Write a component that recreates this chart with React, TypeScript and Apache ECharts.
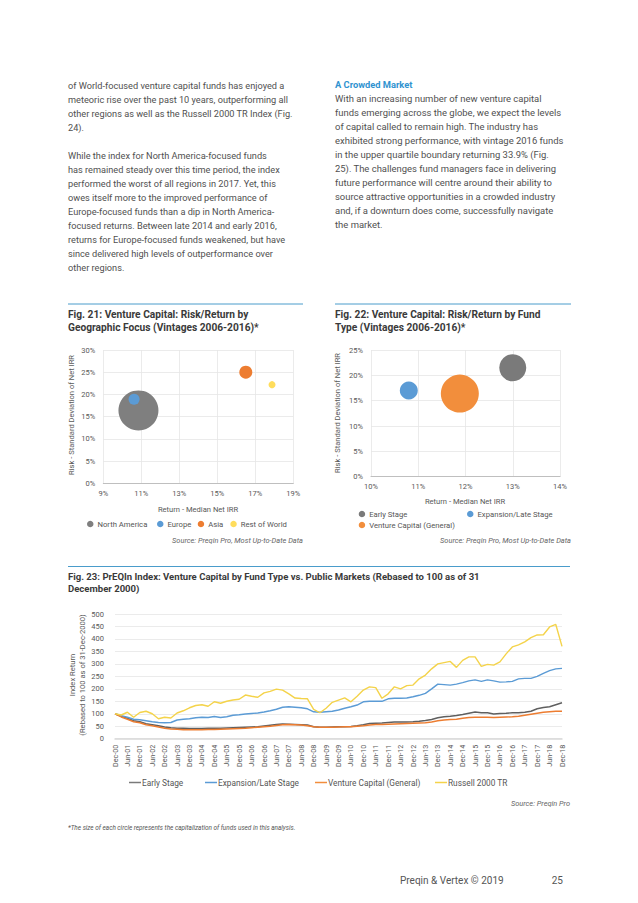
import React, { useEffect, useRef } from "react";
import * as echarts from "echarts";

const FONT = "Roboto";
const TEXT = "#505050";
const BLUE_HEAD = "#2f93d0";
const RULE = "#4a9ccb";

const leftLines = [
  "of World-focused venture capital funds has enjoyed a",
  "meteoric rise over the past 10 years, outperforming all",
  "other regions as well as the Russell 2000 TR Index (Fig.",
  "24).",
  "",
  "While the index for North America-focused funds",
  "has remained steady over this time period, the index",
  "performed the worst of all regions in 2017. Yet, this",
  "owes itself more to the improved performance of",
  "Europe-focused funds than a dip in North America-",
  "focused returns. Between late 2014 and early 2016,",
  "returns for Europe-focused funds weakened, but have",
  "since delivered high levels of outperformance over",
  "other regions.",
];
const rightHeading = "A Crowded Market";
const rightLines = [
  "With an increasing number of new venture capital",
  "funds emerging across the globe, we expect the levels",
  "of capital called to remain high. The industry has",
  "exhibited strong performance, with vintage 2016 funds",
  "in the upper quartile boundary returning 33.9% (Fig.",
  "25). The challenges fund managers face in delivering",
  "future performance will centre around their ability to",
  "source attractive opportunities in a crowded industry",
  "and, if a downturn does come, successfully navigate",
  "the market.",
];

// Fig. 21
const regions = ["North America", "Europe", "Asia", "Rest of World"];
const regionReturn = [10.85, 10.62, 16.5, 17.88];
const regionRisk = [16.4, 18.9, 25.0, 22.2];
const regionCap = [40, 11, 13, 7];
const regionColors = ["#7f7f7f", "#5b9bd5", "#ed7d31", "#ffdd5c"];

// Fig. 22
const fundTypes = ["Early Stage", "Expansion/Late Stage", "Venture Capital (General)"];
const fundReturn = [13.0, 10.8, 11.88];
const fundRisk = [21.5, 17.0, 16.4];
const fundCap = [27, 18, 38];
const fundColors = ["#7a7a7a", "#5b9bd5", "#f28e3c"];

// Fig. 23
const quarters = [
  "Dec-00",
  "Mar-01", "Jun-01", "Sep-01", "Dec-01",
  "Mar-02", "Jun-02", "Sep-02", "Dec-02",
  "Mar-03", "Jun-03", "Sep-03", "Dec-03",
  "Mar-04", "Jun-04", "Sep-04", "Dec-04",
  "Mar-05", "Jun-05", "Sep-05", "Dec-05",
  "Mar-06", "Jun-06", "Sep-06", "Dec-06",
  "Mar-07", "Jun-07", "Sep-07", "Dec-07",
  "Mar-08", "Jun-08", "Sep-08", "Dec-08",
  "Mar-09", "Jun-09", "Sep-09", "Dec-09",
  "Mar-10", "Jun-10", "Sep-10", "Dec-10",
  "Mar-11", "Jun-11", "Sep-11", "Dec-11",
  "Mar-12", "Jun-12", "Sep-12", "Dec-12",
  "Mar-13", "Jun-13", "Sep-13", "Dec-13",
  "Mar-14", "Jun-14", "Sep-14", "Dec-14",
  "Mar-15", "Jun-15", "Sep-15", "Dec-15",
  "Mar-16", "Jun-16", "Sep-16", "Dec-16",
  "Mar-17", "Jun-17", "Sep-17", "Dec-17",
  "Mar-18", "Jun-18", "Sep-18", "Dec-18",
];
const earlyStage = [
  100, 90, 82, 72, 68, 60, 56, 52, 47, 44, 42, 42, 41, 41, 41, 42, 42, 42, 43, 44,
  45, 46, 47, 48, 51, 54, 57, 59, 58, 57, 56, 55, 48, 46, 46, 47, 48, 48, 49, 52,
  56, 61, 62, 63, 65, 67, 67, 67, 68, 70, 73, 77, 84, 88, 90, 93, 97, 102, 107, 104,
  104, 99, 101, 102, 104, 104, 106, 110, 120, 125, 128, 136, 144,
];
const expansionLate = [
  100, 92, 86, 78, 76, 72, 68, 65, 64, 65, 75, 78, 80, 84, 86, 85, 89, 85, 88, 94,
  96, 99, 101, 103, 107, 112, 118, 126, 128, 126, 124, 120, 108, 106, 108, 110, 115, 122, 128, 135,
  148, 150, 150, 150, 160, 162, 162, 163, 168, 174, 182, 200, 219, 217, 215, 219, 225, 232, 236, 230,
  236, 232, 227, 228, 230, 240, 242, 242, 250, 262, 273, 280, 282,
];
const vcGeneral = [
  100, 87, 78, 68, 64, 56, 52, 47, 42, 39, 38, 36, 36, 36, 36, 37, 37, 38, 39, 40,
  41, 42, 44, 46, 48, 50, 53, 56, 57, 56, 55, 52, 48, 46, 46, 46, 47, 48, 48, 50,
  52, 55, 57, 57, 58, 59, 60, 61, 62, 63, 64, 67, 72, 75, 77, 78, 82, 85, 86, 86,
  86, 85, 86, 87, 88, 90, 94, 98, 102, 106, 108, 110, 110,
];
const russell2000 = [
  100, 95, 106, 86, 105, 110, 100, 80, 86, 83, 103, 112, 124, 133, 136, 130, 148, 142, 150, 155,
  158, 175, 170, 166, 184, 190, 199, 195, 180, 163, 161, 160, 118, 104, 122, 146, 155, 164, 148, 170,
  195, 208, 205, 162, 180, 208, 200, 213, 215, 240, 255, 280, 300, 305, 310, 286, 314, 328, 328, 290,
  298, 295, 308, 340, 368, 376, 388, 405, 416, 417, 448, 458, 370,
];
const lineNames = ["Early Stage", "Expansion/Late Stage", "Venture Capital (General)", "Russell 2000 TR"];
const lineColors = ["#5f5f5f", "#5b9bd5", "#ed7d31", "#f4d34a"];

function t(x: number, y: number, text: string, extra: any = {}, el: any = {}) {
  const align = extra.align || "left";
  return {
    type: "text",
    x,
    y,
    silent: true,
    ...el,
    style: {
      text,
      fill: TEXT,
      fontFamily: FONT,
      fontSize: 9,
      align,
      textAlign: align,
      verticalAlign: "middle",
      textVerticalAlign: "middle",
      ...extra,
    },
  };
}

function rule(x1: number, x2: number, y: number) {
  return {
    type: "line",
    silent: true,
    shape: { x1, y1: y, x2, y2: y },
    style: { stroke: RULE, lineWidth: 1 },
  };
}

function dotLegend(name: string, left: number, top: number) {
  return {
    show: true,
    data: [name],
    left,
    top,
    padding: 0,
    itemGap: 0,
    icon: "circle",
    itemWidth: 6.5,
    itemHeight: 6.5,
    selectedMode: false,
    textStyle: { fontFamily: FONT, fontSize: 7.7, color: "#555", padding: [0, 0, 0, -1] },
  };
}

function lineLegend(name: string, left: number, top: number) {
  return {
    show: true,
    data: [name],
    left,
    top,
    padding: 0,
    itemGap: 0,
    icon: "rect",
    itemWidth: 12,
    itemHeight: 1.5,
    selectedMode: false,
    textStyle: { fontFamily: FONT, fontSize: 8.3, color: "#555", padding: [0, 0, 0, -4] },
  };
}

const axisLabelStyle = { fontFamily: FONT, fontSize: 7.5, color: "#595959" };

export default function App() {
  const ref = useRef<HTMLDivElement>(null);

  useEffect(() => {
    document.body.style.margin = "0";
    const chart = echarts.init(ref.current!, null, { renderer: "svg" });

    const graphic: any[] = [];
    leftLines.forEach((line, i) => {
      if (line) graphic.push(t(68, 85 + i * 14, line, { fontSize: 9.2 }));
    });
    graphic.push(t(335, 84, rightHeading, { fill: BLUE_HEAD, fontWeight: "bold", fontSize: 9.3 }));
    rightLines.forEach((line, i) => graphic.push(t(335, 98 + i * 14, line, { fontSize: 9.45 })));

    // figure rules & titles
    graphic.push(rule(68, 303, 304));
    graphic.push(rule(335, 571, 304));
    graphic.push(rule(68, 570, 566.5));
    const titleStyle = { fontWeight: "bold", fontSize: 10.2, fill: "#3a3a3a" };
    const title23Style = { fontWeight: "bold", fontSize: 9.55, fill: "#3a3a3a" };
    graphic.push(t(68, 314, "Fig. 21: Venture Capital: Risk/Return by", titleStyle));
    graphic.push(t(68, 327.5, "Geographic Focus (Vintages 2006-2016)*", titleStyle));
    graphic.push(t(335, 314, "Fig. 22: Venture Capital: Risk/Return by Fund", titleStyle));
    graphic.push(t(335, 327.5, "Type (Vintages 2006-2016)*", titleStyle));
    graphic.push(
      t(68, 576, "Fig. 23: PrEQIn Index: Venture Capital by Fund Type vs. Public Markets (Rebased to 100 as of 31", title23Style)
    );
    graphic.push(t(68, 588.5, "December 2000)", title23Style));

    // axis names
    const nameStyle = { fontSize: 7.6, fill: "#595959", align: "center" };
    graphic.push(t(71, 415, "Risk - Standard Deviation of Net IRR", nameStyle, { rotation: Math.PI / 2 }));
    graphic.push(t(337, 413, "Risk - Standard Deviation of Net IRR", nameStyle, { rotation: Math.PI / 2 }));
    graphic.push(t(72, 675, "Index Return", nameStyle, { rotation: Math.PI / 2 }));
    graphic.push(t(82, 675, "(Rebased to 100 as of 31-Dec-2000)", nameStyle, { rotation: Math.PI / 2 }));
    graphic.push(t(198, 509.5, "Return - Median Net IRR", nameStyle));
    graphic.push(t(465, 501, "Return - Median Net IRR", nameStyle));

    // sources & footnotes
    const srcStyle = { fontSize: 7.4, fontStyle: "italic", fill: "#666", align: "right" };
    graphic.push(t(303, 540, "Source: Preqin Pro, Most Up-to-Date Data", srcStyle));
    graphic.push(t(571, 540.5, "Source: Preqin Pro, Most Up-to-Date Data", srcStyle));
    graphic.push(t(570, 803.5, "Source: Preqin Pro", srcStyle));
    graphic.push(
      t(68, 827.5, "*The size of each circle represents the capitalization of funds used in this analysis.", {
        fontSize: 6.4,
        fontStyle: "italic",
        fill: "#555",
      })
    );
    graphic.push(t(400, 880, "Preqin & Vertex © 2019", { fontSize: 10, fill: "#555" }));
    graphic.push(t(563, 880, "25", { fontSize: 10, fill: "#555", align: "right" }));

    const pctAxis = (min: number, max: number, interval: number, gridIndex: number, isX: boolean) => ({
      type: "value",
      gridIndex,
      min,
      max,
      interval,
      axisLine: { show: isX, lineStyle: { color: "#bfbfbf", width: 1 } },
      axisTick: { show: false },
      axisLabel: { ...axisLabelStyle, formatter: "{value}%", margin: isX ? 6 : 8 },
      splitLine: { show: true, lineStyle: { color: "#e6e6e6", width: 0.8 } },
    });

    const series: any[] = [];
    regions.forEach((name, i) => {
      series.push({
        name,
        type: "scatter",
        xAxisIndex: 0,
        yAxisIndex: 0,
        data: [[regionReturn[i], regionRisk[i], regionCap[i]]],
        symbolSize: (v: number[]) => v[2],
        itemStyle: { color: regionColors[i], opacity: 1 },
        z: 2 + i,
      });
    });
    fundTypes.forEach((name, i) => {
      series.push({
        name,
        type: "scatter",
        xAxisIndex: 1,
        yAxisIndex: 1,
        data: [[fundReturn[i], fundRisk[i], fundCap[i]]],
        symbolSize: (v: number[]) => v[2],
        itemStyle: { color: fundColors[i], opacity: 1 },
        z: 2 + i,
      });
    });
    const lineData = [earlyStage, expansionLate, vcGeneral, russell2000];
    lineNames.forEach((name, i) => {
      series.push({
        name,
        type: "line",
        xAxisIndex: 2,
        yAxisIndex: 2,
        data: lineData[i],
        showSymbol: false,
        symbol: "none",
        lineStyle: { color: lineColors[i], width: 1.4 },
        itemStyle: { color: lineColors[i] },
        z: 2 + i,
      });
    });

    chart.setOption({
      animation: false,
      backgroundColor: "#ffffff",
      textStyle: { fontFamily: FONT },
      grid: [
        { left: 103.3, top: 350, width: 190, height: 133.3, containLabel: false },
        { left: 371, top: 350, width: 189, height: 126.7, containLabel: false },
        { left: 115, top: 614, width: 447, height: 124.7, containLabel: false },
      ],
      xAxis: [
        pctAxis(9, 19, 2, 0, true),
        pctAxis(10, 14, 1, 1, true),
        {
          type: "category",
          gridIndex: 2,
          data: quarters,
          boundaryGap: false,
          axisLine: { show: true, lineStyle: { color: "#d9d9d9", width: 1.5 } },
          axisTick: { show: false },
          axisLabel: { ...axisLabelStyle, fontSize: 7.2, interval: 1, rotate: 90, margin: 6 },
          splitLine: { show: false },
        },
      ],
      yAxis: [
        pctAxis(0, 30, 5, 0, false),
        pctAxis(0, 25, 5, 1, false),
        {
          type: "value",
          gridIndex: 2,
          min: 0,
          max: 500,
          interval: 50,
          axisLine: { show: false },
          axisTick: { show: false },
          axisLabel: { ...axisLabelStyle, margin: 11 },
          splitLine: { show: true, lineStyle: { color: "#e6e6e6", width: 0.8 } },
        },
      ],
      legend: [
        dotLegend("North America", 87, 520),
        dotLegend("Europe", 157, 520),
        dotLegend("Asia", 197.7, 520),
        dotLegend("Rest of World", 230.3, 520),
        dotLegend("Early Stage", 358.7, 510),
        dotLegend("Expansion/Late Stage", 467, 510),
        dotLegend("Venture Capital (General)", 358.7, 521),
        lineLegend("Early Stage", 129, 778.5),
        lineLegend("Expansion/Late Stage", 205, 778.5),
        lineLegend("Venture Capital (General)", 315, 778.5),
        lineLegend("Russell 2000 TR", 435, 778.5),
      ],
      graphic,
      series,
    });

    return () => chart.dispose();
  }, []);

  return (
    <div
      ref={ref}
      style={{ position: "absolute", left: 0, top: 0, width: 638, height: 903, background: "#fff" }}
    />
  );
}
